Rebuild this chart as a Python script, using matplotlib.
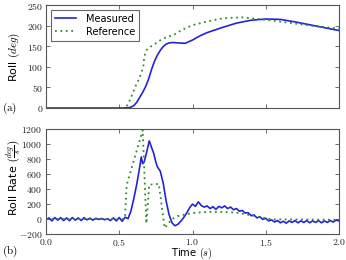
import numpy as np
import matplotlib
matplotlib.use("Agg")
import matplotlib.pyplot as plt
from matplotlib.ticker import FuncFormatter

plt.rcParams['mathtext.fontset'] = 'cm'
plt.rcParams['font.family'] = ['DejaVu Sans']

# ---- data ----
t_roll_meas = [0.0, 0.5, 0.56, 0.58, 0.60, 0.62, 0.64, 0.66, 0.68, 0.70, 0.72, 0.74,
               0.76, 0.78, 0.80, 0.82, 0.84, 0.87, 0.90, 0.95, 1.0, 1.05, 1.1, 1.2,
               1.3, 1.4, 1.5, 1.6, 1.7, 1.8, 1.9, 2.0]
roll_meas = [0, 0, 0.5, 2, 6, 14, 26, 38, 52, 70, 93, 113,
             128, 140, 149, 155, 158, 159, 158, 157, 165, 175, 183, 195,
             206, 213, 216, 215, 209, 202, 195, 188]

t_roll_ref = [0.0, 0.53, 0.545, 0.56, 0.58, 0.61, 0.64, 0.664, 0.671, 0.687, 0.71,
              0.733, 0.77, 0.80, 0.87, 0.93, 1.0, 1.1, 1.21, 1.34, 1.45, 1.55, 1.7,
              1.85, 2.0]
roll_ref = [0, 0, 2, 10, 25, 52, 74, 100, 125, 141, 148,
            153, 162, 169, 177, 190, 201, 210, 218, 220, 216, 212, 205,
            198, 193]

t_rate_meas = [0.00, 0.02, 0.04, 0.06, 0.08, 0.10, 0.12, 0.14, 0.16, 0.18, 0.20,
               0.22, 0.24, 0.26, 0.28, 0.30, 0.32, 0.34, 0.36, 0.38, 0.40, 0.42,
               0.44, 0.46, 0.48, 0.50, 0.52, 0.54, 0.56, 0.58, 0.60, 0.62, 0.64,
               0.65, 0.66, 0.67, 0.69, 0.705, 0.72, 0.735, 0.75, 0.76, 0.78, 0.79,
               0.80, 0.82, 0.84, 0.86, 0.88, 0.90, 0.92, 0.94, 0.96, 0.98, 1.00,
               1.02, 1.04, 1.06, 1.08, 1.10, 1.12, 1.14, 1.16, 1.18, 1.20, 1.22,
               1.24, 1.26, 1.28, 1.30, 1.32, 1.34, 1.36, 1.38, 1.40, 1.42, 1.44,
               1.46, 1.48, 1.50, 1.52, 1.54, 1.56, 1.58, 1.60, 1.62, 1.64, 1.66,
               1.68, 1.70, 1.72, 1.74, 1.76, 1.78, 1.80, 1.82, 1.84, 1.86, 1.88,
               1.90, 1.92, 1.94, 1.96, 1.98, 2.00]
rate_meas = [-10, 15, -25, 20, -15, 18, -20, 15, -22, 20, -15, 15, -20, 18, -10,
             12, -15, 10, -5, 8, -10, 5, -20, 15, -25, 20, -30, 25, 5, 110, 280,
             470, 700, 830, 740, 760, 920, 1045, 960, 880, 760, 700, 640, 560,
             480, 240, 60, -50, -90, -70, -30, 20, 80, 150, 200, 170, 230, 180,
             160, 175, 140, 165, 130, 170, 150, 175, 140, 160, 125, 140, 105, 115,
             80, 85, 45, 55, 15, 30, -5, 10, -25, -10, -40, -20, -50, -30, -55,
             -25, -45, -20, -50, -25, -45, -20, -50, -25, -45, -20, -50, -25, -45,
             -20, -40, -15, -25]

t_rate_ref = [0.0, 0.53, 0.54, 0.55, 0.66, 0.685, 0.705, 0.77, 0.81, 0.86, 0.9,
              1.0, 1.1, 1.2, 1.3, 1.4, 1.5, 1.55, 1.7, 2.0]
rate_ref = [0, 0, 30, 450, 1190, -60, 460, 470, -120, 0, 40,
            80, 95, 95, 85, 50, 10, -5, -5, -10]

blue = '#2323dc'
green = '#2e8b2e'

fig = plt.figure(figsize=(3.46, 2.6), dpi=100)
ax1 = fig.add_axes([46/346, 1-108/260, 293/346, 103/260])
ax2 = fig.add_axes([46/346, 1-234/260, 293/346, 104.7/260])

ax1.plot(t_roll_meas, roll_meas, color=blue, lw=1.2, label='Measured')
ax1.plot(t_roll_ref, roll_ref, color=green, lw=1.3, ls=(0, (1, 2)), label='Reference')
ax2.plot(t_rate_meas, rate_meas, color=blue, lw=1.2)
ax2.plot(t_rate_ref, rate_ref, color=green, lw=1.3, ls=(0, (1, 2)))

mfmt = FuncFormatter(lambda v, p: r'$%g$' % v if abs(v) >= 1e-9 else r'$0$')
xfmt = FuncFormatter(lambda v, p: r'$%.1f$' % v)

ax1.set_xlim(0, 2)
ax1.set_ylim(0, 250)
ax1.set_yticks([0, 50, 100, 150, 200, 250])
ax1.set_xticks([0, 0.5, 1.0, 1.5, 2.0])
ax1.set_xticklabels([])
ax1.yaxis.set_major_formatter(mfmt)

ax2.set_xlim(0, 2)
ax2.set_ylim(-200, 1200)
ax2.set_yticks([-200, 0, 200, 400, 600, 800, 1000, 1200])
ax2.set_xticks([0, 0.5, 1.0, 1.5, 2.0])
ax2.yaxis.set_major_formatter(mfmt)
ax2.xaxis.set_major_formatter(xfmt)

for ax in (ax1, ax2):
    ax.tick_params(direction='in', top=True, right=True, labelsize=7,
                   length=3, width=0.6, color='#555555', pad=2, labelcolor='#222222')
    for s in ax.spines.values():
        s.set_color('#555555')
        s.set_linewidth(0.8)
ax2.tick_params(axis='x', pad=2)
ax2.tick_params(axis='y', pad=2.5)

leg = ax1.legend(loc='upper left', fontsize=7, handlelength=2.2,
                 borderpad=0.4, labelspacing=0.3, handletextpad=1.0,
                 bbox_to_anchor=(0.0, 1.0), fancybox=False)
leg.get_frame().set_edgecolor('#444444')
leg.get_frame().set_linewidth(0.8)

fig.text(14/346, 1-57/260, r'Roll $(deg)$', rotation=90, ha='center', va='center', fontsize=8)
fig.text(14/346, 1-178/260, r'Roll Rate $\left(\frac{deg}{s}\right)$', rotation=90,
         ha='center', va='center', fontsize=8)
fig.text(192/346, 1-253/260, r'Time $(s)$', ha='center', va='center', fontsize=7.2)
fig.text(10/346, 1-251.5/260, r'$\mathrm{(b)}$', ha='center', va='center', fontsize=8)
fig.text(10/346, 1-108/260, r'$\mathrm{(a)}$', ha='center', va='center', fontsize=8)

fig.savefig('out.png', dpi=100)
